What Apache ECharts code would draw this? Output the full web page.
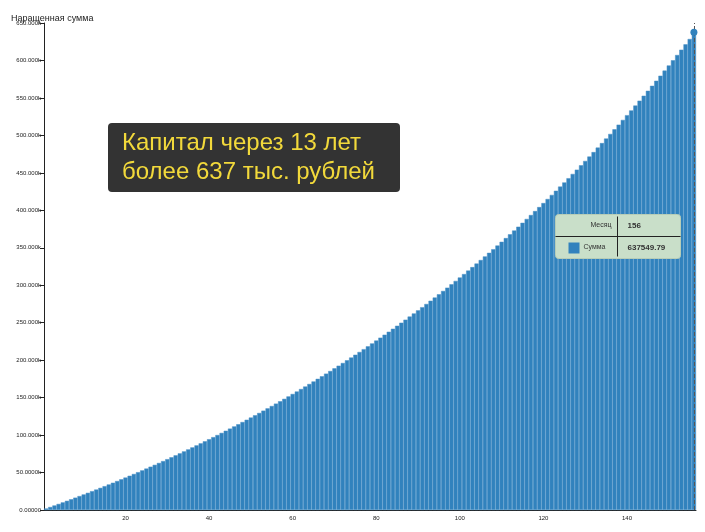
<!DOCTYPE html>
<html>
<head>
<meta charset="utf-8">
<script src="https://cdn.jsdelivr.net/npm/echarts@6/dist/echarts.min.js"></script>
<style>
html,body{margin:0;padding:0;background:#fff;}
#chart{width:705px;height:532px;}
</style>
</head>
<body>
<div id="chart"></div>
<script>
// накопленная сумма по месяцам
var sums = [
2000,4017,6050,8101,10168,12253,14355,16474,18611,20766,
22939,25130,27339,29567,31813,34078,36362,38665,40987,43329,
45690,48071,50472,52893,55334,57795,60277,62779,65302,67846,
70411,72998,75606,78236,80888,83562,86258,88977,91718,94482,
97269,100080,102914,105772,108653,111558,114488,117442,120421,123425,
126454,129508,132587,135692,138823,141980,145163,148373,151609,154872,
158163,161481,164827,168201,171603,175033,178492,181979,185495,189041,
192616,196221,199856,203521,207217,210944,214702,218491,222312,226165,
230050,233967,237917,241900,245916,249965,254048,258165,262316,266502,
270723,274979,279270,283597,287960,292360,296796,301269,305780,310328,
314914,319538,324201,328903,333644,338424,343244,348104,353005,357947,
362930,367954,373020,378129,383280,388474,393711,398992,404317,409686,
415100,420559,426064,431615,437212,442855,448545,454283,460069,465903,
471786,477718,483699,489730,495811,501943,508126,514360,520646,526985,
533377,539822,546321,552874,559481,566143,572861,579635,586465,593352,
600297,607299,614360,621480,628659,637549.79
];
var months = [];
for (var i = 1; i <= sums.length; i++) months.push(i);
var xTicks = [20, 40, 60, 80, 100, 120, 140];
var lastMonth = 156;
var lastSum = '637549.79';

function fmtY(v){
  if (v === 0) return '0.00000';
  return (v / 1000).toPrecision(6) + 'k';
}

var chart = echarts.init(document.getElementById('chart'));
chart.setOption({
  animation: false,
  grid: {left: 44, right: 9, top: 23, bottom: 22},
  title: {
    text: 'Наращенная сумма', left: 6, top: 9,
    textStyle: {fontSize: 9, fontWeight: 'normal', color: '#222', fontFamily: 'Arial'}
  },
  xAxis: {
    type: 'category',
    data: months,
    axisLine: {lineStyle: {color: '#222'}},
    axisTick: {
      alignWithLabel: true,
      interval: function(idx, v){ return xTicks.indexOf(+v) >= 0; },
      lineStyle: {color: '#222'}
    },
    axisLabel: {
      interval: function(idx, v){ return xTicks.indexOf(+v) >= 0; },
      fontSize: 6, color: '#222', margin: 5
    }
  },
  yAxis: {
    type: 'value', min: 0, max: 650000, interval: 50000,
    splitLine: {show: false},
    axisLine: {show: true, lineStyle: {color: '#222'}},
    axisTick: {show: true, length: 4, lineStyle: {color: '#222'}},
    axisLabel: {formatter: fmtY, fontSize: 6, color: '#222', margin: 3}
  },
  series: [{
    type: 'bar',
    data: sums,
    barCategoryGap: '0%',
    itemStyle: {color: '#3182bd', borderColor: '#4a90c6', borderWidth: 0.5},
    markLine: {
      silent: true, symbol: 'none',
      lineStyle: {color: '#555', type: 'dashed', width: 1},
      label: {show: false},
      data: [[{coord: [sums.length - 1, 0]}, {coord: [sums.length - 1, 650000]}]]
    },
    markPoint: {
      symbol: 'circle', symbolSize: 7,
      itemStyle: {color: '#3182bd'},
      label: {show: false},
      data: [{coord: [sums.length - 1, sums[sums.length - 1]]}]
    }
  }],
  graphic: [
    {
      type: 'group', left: 108, top: 123, z: 100,
      children: [
        {type: 'rect', z: 100, shape: {x: 0, y: 0, width: 292, height: 69, r: 4},
         style: {fill: '#333'}},
        {type: 'text', z: 101, left: 14, top: 6,
         style: {text: 'Капитал через 13 лет\nболее 637 тыс. рублей',
           fill: '#f2d93b', font: '24px Arial', lineHeight: 29}}
      ]
    },
    {
      type: 'group', left: 553, top: 214, z: 100,
      children: [
        {type: 'rect', z: 100, shape: {x: 0, y: 0, width: 125, height: 44, r: 3},
         style: {fill: '#c9dfc9', stroke: '#b7cdb7'}},
        {type: 'line', z: 101, shape: {x1: 0, y1: 22, x2: 125, y2: 22}, style: {stroke: '#222', lineWidth: 1}},
        {type: 'line', z: 101, shape: {x1: 62, y1: 2, x2: 62, y2: 42}, style: {stroke: '#222', lineWidth: 1}},
        {type: 'text', z: 101, style: {text: 'Месяц', x: 56, y: 11, align: 'right', verticalAlign: 'middle', font: '7px Arial', fill: '#333'}},
        {type: 'text', z: 101, style: {text: String(lastMonth), x: 72, y: 11, verticalAlign: 'middle', font: 'bold 8px Arial', fill: '#333'}},
        {type: 'rect', z: 101, shape: {x: 13, y: 28, width: 11, height: 11}, style: {fill: '#3182bd'}},
        {type: 'text', z: 101, style: {text: 'Сумма', x: 28, y: 33, verticalAlign: 'middle', font: '7px Arial', fill: '#333'}},
        {type: 'text', z: 101, style: {text: lastSum, x: 72, y: 33, verticalAlign: 'middle', font: 'bold 8px Arial', fill: '#333'}}
      ]
    }
  ]
});
</script>
</body>
</html>
